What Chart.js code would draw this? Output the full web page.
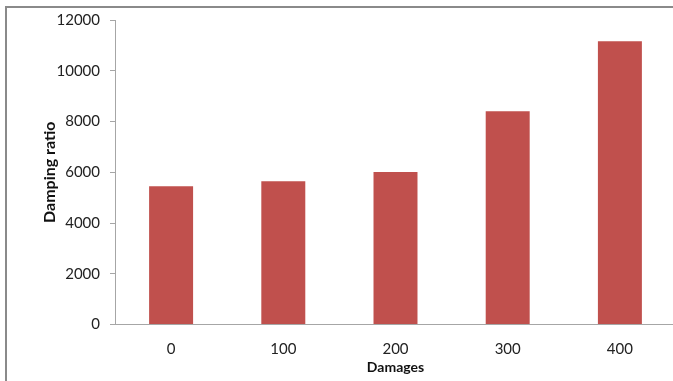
<!DOCTYPE html>
<html>
<head>
<meta charset="utf-8">
<script src="https://cdn.jsdelivr.net/npm/chart.js@4.4.1/dist/chart.umd.min.js"></script>
<style>
  html, body { margin: 0; padding: 0; background: #fff; overflow: hidden; }
  #frame { position: absolute; left: 5px; top: 6px; width: 700px; height: 400px;
           border-left: 2px solid #8a8a8a; border-top: 2px solid #8a8a8a; }
  #wrap { position: absolute; left: 0; top: 0; width: 676px; height: 381px; }
</style>
</head>
<body>
<div id="frame"></div>
<div id="wrap"><canvas id="c" width="676" height="381"></canvas></div>
<script>
const categories = ["0", "100", "200", "300", "400"];
const dampingValues = [5450, 5650, 6010, 8400, 11160];
const yTicks = [0, 2000, 4000, 6000, 8000, 10000, 12000];

const FONT = "Lato, 'Open Sans', sans-serif";

new Chart(document.getElementById('c'), {
  type: 'bar',
  data: {
    labels: categories,
    datasets: [{
      label: 'Damping ratio',
      data: dampingValues,
      backgroundColor: '#C0504D',
      borderWidth: 0,
      categoryPercentage: 1,
      barPercentage: 0.392
    }]
  },
  options: {
    responsive: false,
    devicePixelRatio: 1,
    animation: false,
    layout: { padding: { top: 20, right: 0, bottom: 0, left: 0 } },
    plugins: { legend: { display: false }, tooltip: { enabled: false } },
    scales: {
      x: {
        grid: { display: true, drawOnChartArea: false, drawTicks: false },
        border: { display: true, color: '#a6a6a6', width: 1 },
        ticks: { color: '#222', font: { family: FONT, size: 15 }, padding: 16 },
        title: { display: true, text: 'Damages', color: '#111',
                 font: { family: FONT, size: 14, weight: 'bold' },
                 padding: { top: 0, bottom: 5 } },
        afterFit: (s) => { s.height = 56.5; }
      },
      y: {
        min: 0, max: 12000,
        afterBuildTicks: (s) => { s.ticks = yTicks.map(v => ({ value: v })); },
        grid: { display: true, drawOnChartArea: false, drawTicks: true, tickLength: 5, color: '#a6a6a6' },
        border: { display: true, color: '#a6a6a6', width: 1 },
        ticks: { color: '#222', font: { family: FONT, size: 15 }, padding: 10,
                 callback: (v) => String(v) },
        title: { display: true, text: 'Damping ratio', color: '#111',
                 font: { family: FONT, size: 16, weight: 'bold' },
                 padding: { top: 40, bottom: 0 } },
        afterFit: (s) => { s.width = 115; }
      }
    }
  }
});
</script>
</body>
</html>
